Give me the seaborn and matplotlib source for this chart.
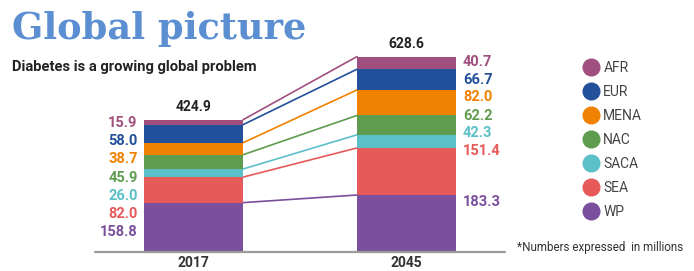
import numpy as np
import pandas as pd
import matplotlib
matplotlib.use("Agg")
import matplotlib.pyplot as plt
from matplotlib.lines import Line2D
import seaborn as sns

# Datos
regiones = ["AFR", "EUR", "MENA", "NAC", "SACA", "SEA", "WP"]
anios = ["2017", "2045"]
valores_2017 = [15.9, 58.0, 38.7, 45.9, 26.0, 82.0, 158.8]
valores_2045 = [40.7, 66.7, 82.0, 62.2, 42.3, 151.4, 183.3]
totales = [424.9, 628.6]
colores = ["#a0507f", "#22509a", "#ef8200", "#5f9c4f", "#5bc0c8", "#e65a5a", "#7b4f9c"]

sns.set_theme(style="white")
plt.rcParams["font.family"] = ["Roboto", "DejaVu Sans"]

fig = plt.figure(figsize=(6.94, 2.71), dpi=100)
ax = fig.add_axes([95 / 694, 19 / 271, 410 / 694, 222 / 271])

# Stack: WP abajo, AFR arriba
df = pd.DataFrame({"region": regiones * 2,
                   "anio": [anios[0]] * 7 + [anios[1]] * 7,
                   "valor": valores_2017 + valores_2045})
df["orden"] = df["region"].map({r: i for i, r in enumerate(regiones)})
df = df.sort_values(["anio", "orden"], ascending=[True, False])
df["acum"] = df.groupby("anio")["valor"].cumsum()

ancho = 0.465
# dibujar de arriba (AFR, acumulado mayor) hacia abajo
for reg, col in zip(regiones, colores):
    sub = df[df["region"] == reg]
    sns.barplot(data=sub, x="anio", y="acum", color=col, width=ancho,
                saturation=1, order=anios, ax=ax, zorder=2, linewidth=0)

# lineas que conectan los segmentos
for reg, col in zip(regiones, colores):
    sub = df[df["region"] == reg].set_index("anio")
    ax.plot([ancho / 2, 1 - ancho / 2],
            [sub.loc["2017", "acum"], sub.loc["2045", "acum"]],
            color=col, lw=1.2, zorder=1)

ax.set_xlim(-0.462, 1.462)
ax.set_ylim(0, 714)
ax.axhline(0, color="#9a9a9a", lw=1.6, zorder=3, clip_on=False)
sns.despine(ax=ax, left=True, bottom=True)
ax.set_yticks([])
ax.set_xlabel("")
ax.set_ylabel("")
ax.tick_params(axis="x", length=0, pad=3)
for t in ax.get_xticklabels():
    t.set_fontsize(10)
    t.set_fontweight("bold")
    t.set_color("#333333")

# Etiquetas 2017 (a la izquierda, espaciadas)
pos_2017 = np.linspace(415, 64, 7)
for v, y, col in zip(valores_2017, pos_2017, colores):
    ax.text(-0.262, y, f"{v:.1f}", ha="right", va="center", color=col,
            fontsize=10.5, fontweight="bold")

# Etiquetas 2045 (a la derecha)
pos_2045 = [611, 553, 498, 437, 383, 325, 161]
for v, y, col in zip(valores_2045, pos_2045, colores):
    ax.text(1.265, y, f"{v:.1f}", ha="left", va="center", color=col,
            fontsize=10.5, fontweight="bold")

# Totales
for i, tot in enumerate(totales):
    ax.text(i, tot + 40, f"{tot:.1f}", ha="center", va="center",
            fontsize=10, fontweight="bold", color="#222222")

# Titulos
fig.text(12 / 694, 1 - 29 / 271, "Global picture", ha="left", va="center",
         fontsize=26.5, fontweight="bold", color="#5b8fd2", family="DejaVu Serif")
fig.text(12 / 694, 1 - 67 / 271, "Diabetes is a growing global problem",
         ha="left", va="center", fontsize=10.6, fontweight="bold", color="#222222")

# Leyenda
handles = [Line2D([], [], marker="o", ls="", markersize=12, color=c) for c in colores]
leg = fig.legend(handles, regiones, loc="upper left", bbox_to_anchor=(570 / 694, 1 - 48 / 271),
                 frameon=False, fontsize=10, labelspacing=0.72, handletextpad=0.3,
                 handlelength=1.2)
for t in leg.get_texts():
    t.set_color("#444444")

fig.text(517 / 694, 1 - 248 / 271, "*Numbers expressed  in millions", ha="left",
         va="center", fontsize=8.4, color="#333333")

fig.savefig("out.png", dpi=100)
